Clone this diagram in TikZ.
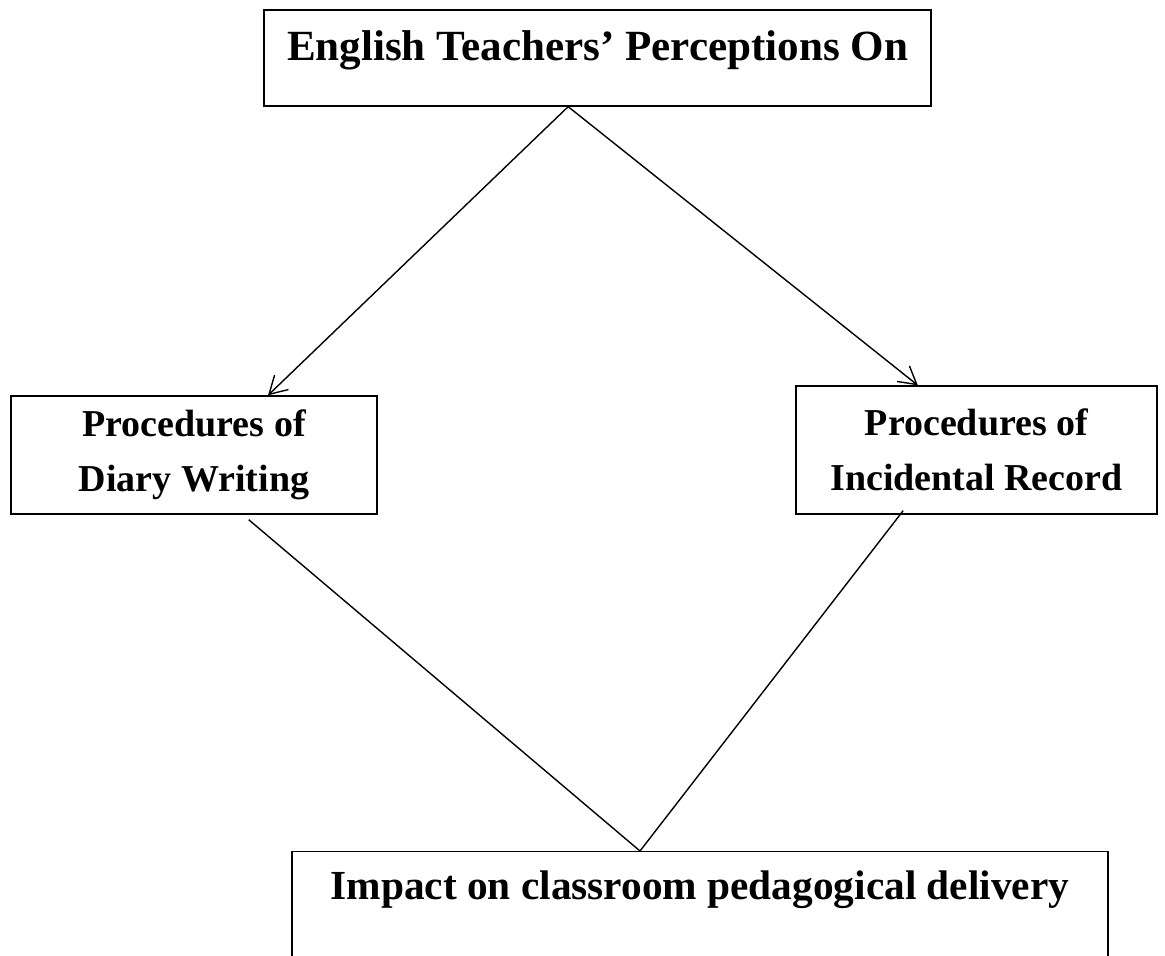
\documentclass[tikz,border=0pt]{standalone}
\usepackage{fontspec}
\setmainfont{Liberation Serif}
\usetikzlibrary{arrows.meta, positioning}
\tikzstyle{headbox} = [rectangle, 
draw=black, 
line width=1pt, 
inner sep=0pt, 
minimum width=500.25pt, 
text height=38.25pt, 
text depth=33.75pt, 
font=\fontsize{32.3}{40}\selectfont\bfseries]
\tikzstyle{procbox} = [rectangle, 
draw=black, 
line width=1pt, 
align=center, 
text centered, 
font=\fontsize{28.5}{41}\selectfont\bfseries]
\tikzstyle{impactbox} = [rectangle, 
draw=black, 
line width=1pt, 
inner sep=0pt, 
minimum width=612pt, 
text height=36pt, 
text depth=112.5pt, 
font=\fontsize{31}{36}\selectfont\bfseries]
\tikzstyle{arrow} = [line width=1.05pt,-{Straight Barb[length=13pt,width=15pt]}]
\tikzstyle{link} = [line width=1.05pt]

\begin{document}
\begin{tikzpicture}[x=0.75pt, y=-0.75pt]
        \clip (0,0) rectangle (1165,956);

        % --- Nodos ---
        \node (perceptions) [headbox] at (597.5,58) {English Teachers’ Perceptions On};
        \node (diary) [procbox, minimum width=274.5pt, minimum height=88.5pt] at (194,455) {Procedures of\\Diary Writing};
        \node (incidental) [procbox, minimum width=270.75pt, minimum height=96pt] at (976.5,450) {Procedures of\\Incidental Record};
        \node (impact) [impactbox, anchor=north] at (700,851) {Impact on classroom pedagogical delivery};

        % --- Flechas desde el nodo superior ---
        \draw [arrow] ([xshift=-22pt]perceptions.south) -- ([xshift=55.5pt]diary.north);
        \draw [arrow] ([xshift=-22pt]perceptions.south) -- ([xshift=-44pt]incidental.north);

        % --- Lineas hacia el nodo inferior ---
        \draw [link] ([xshift=41pt,yshift=-3.75pt]diary.south) -- ([xshift=-45pt]impact.north);
        \draw [link] ([xshift=-55pt,yshift=3pt]incidental.south) -- ([xshift=-45pt]impact.north);

    \end{tikzpicture}
\end{document}
